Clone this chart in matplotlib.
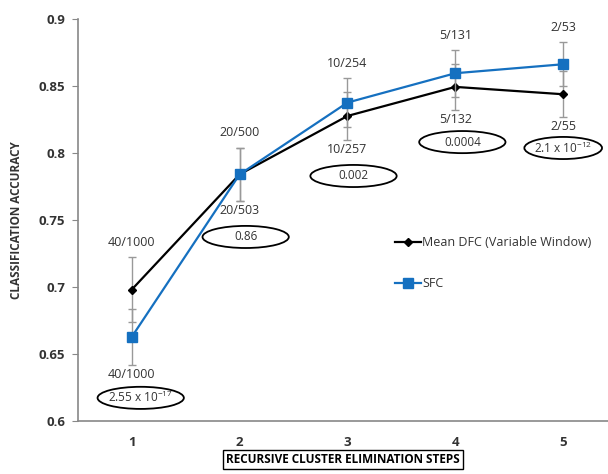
import matplotlib.pyplot as plt
from matplotlib.patches import Ellipse
from matplotlib.lines import Line2D

plt.rcParams['font.family'] = ['Open Sans', 'DejaVu Sans']

steps = [1, 2, 3, 4, 5]
dfc_acc = [0.698, 0.784, 0.8276, 0.8493, 0.8438]
dfc_err = [0.0245, 0.020, 0.018, 0.017, 0.017]
sfc_acc = [0.6627, 0.784, 0.8376, 0.8595, 0.8662]
sfc_err = [0.021, 0.020, 0.018, 0.0175, 0.0165]

# counts of clusters/features written above and below each step
upper_counts = ['40/1000', '20/500', '10/254', '5/131', '2/53']
lower_counts = ['40/1000', '20/503', '10/257', '5/132', '2/55']
p_values = [r'2.55 x 10$^{\mathregular{-17}}$', '0.86', '0.002', '0.0004',
            r'2.1 x 10$^{\mathregular{-12}}$']

blue = '#1570c0'
grey = '#333333'

fig = plt.figure(figsize=(6.08, 4.74), dpi=100)
ax = fig.add_axes([0.128, 0.112, 0.887, 0.848])

ax.errorbar(steps, dfc_acc, yerr=dfc_err, color='black', marker='D', markersize=4.5,
            lw=1.6, ecolor='#999999', elinewidth=1, capsize=3, capthick=1, zorder=3)
ax.errorbar(steps, sfc_acc, yerr=sfc_err, color=blue, marker='s', markersize=7,
            lw=1.6, ecolor='#999999', elinewidth=1, capsize=3, capthick=1, zorder=4)

ax.set_xlim(0.5, 5.5)
ax.set_ylim(0.6, 0.9)
ax.set_yticks([0.6, 0.65, 0.7, 0.75, 0.8, 0.85, 0.9])
ax.set_yticklabels(['0.6', '0.65', '0.7', '0.75', '0.8', '0.85', '0.9'])
ax.set_xticks(steps)
ax.tick_params(axis='x', length=0, pad=11)
ax.tick_params(axis='y', length=4, color='#888888', pad=5)
for lbl in ax.get_xticklabels() + ax.get_yticklabels():
    lbl.set_fontweight('bold')
    lbl.set_fontsize(9.5)
    lbl.set_color(grey)
for s in ['top', 'right']:
    ax.spines[s].set_visible(False)
for s in ['left', 'bottom']:
    ax.spines[s].set_color('#888888')
    ax.spines[s].set_linewidth(1.2)

for i, x in enumerate(steps):
    top = max(dfc_acc[i] + dfc_err[i], sfc_acc[i] + sfc_err[i])
    bot = min(dfc_acc[i] - dfc_err[i], sfc_acc[i] - sfc_err[i])
    ax.text(x, top + 0.011, upper_counts[i], ha='center', va='center',
            fontsize=9, color=grey)
    ax.text(x, bot - 0.007, lower_counts[i], ha='center', va='center',
            fontsize=9, color=grey)

# p-value ellipses
ell_pos = [(1.083, 0.6172), (2.056, 0.7373), (3.056, 0.7828), (4.065, 0.8081), (5.0, 0.8037)]
ell_w = [0.8, 0.8, 0.8, 0.8, 0.72]
for (x, y), w, txt in zip(ell_pos, ell_w, p_values):
    ax.add_patch(Ellipse((x, y), w, 0.0165, fill=False, ec='black', lw=1.3,
                         clip_on=False, zorder=5))
    ax.text(x, y, txt, ha='center', va='center', fontsize=8.5, color=grey)

handles = [Line2D([], [], color='black', marker='D', markersize=4.5, lw=1.6),
           Line2D([], [], color=blue, marker='s', markersize=7, lw=1.6)]
ax.legend(handles, ['Mean DFC (Variable Window)', 'SFC'], loc='upper left',
          bbox_to_anchor=(0.567, 0.487), frameon=False, fontsize=9,
          handlelength=2.1, handletextpad=0.1, labelspacing=2.2, labelcolor=grey)

ax.set_ylabel('CLASSIFICATION ACCURACY', fontweight='bold', fontsize=8.5,
              color=grey, labelpad=11)
fig.text(0.564, 0.017, 'RECURSIVE CLUSTER ELIMINATION STEPS', ha='center',
         va='bottom', fontweight='bold', fontsize=8.5, color='black',
         bbox=dict(boxstyle='square,pad=0.25', fc='white', ec='black', lw=1))

fig.savefig('out.png', dpi=100)
